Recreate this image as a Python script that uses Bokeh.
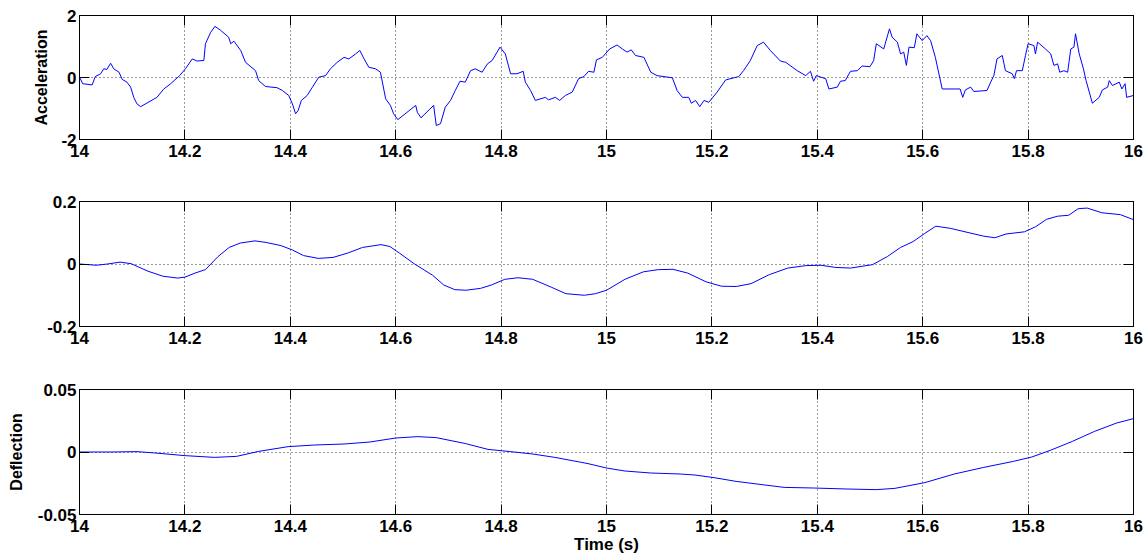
from bokeh.plotting import figure
from bokeh.layouts import column
from bokeh.models import Range1d, FixedTicker, LinearAxis, CustomJSTickFormatter
from bokeh.embed import file_html
from bokeh.resources import INLINE

# ---- data -------------------------------------------------------------
accel_t = [14.000, 14.006, 14.024, 14.030, 14.040, 14.046, 14.052, 14.059, 14.065, 14.075,
           14.081, 14.090, 14.097, 14.103, 14.109, 14.116, 14.147, 14.160, 14.173, 14.190,
           14.201, 14.214, 14.223, 14.236, 14.239, 14.249, 14.257, 14.268, 14.283, 14.287,
           14.293, 14.306, 14.315, 14.334, 14.340, 14.353, 14.375, 14.385, 14.397, 14.404,
           14.410, 14.415, 14.421, 14.432, 14.442, 14.454, 14.467, 14.476, 14.489, 14.502,
           14.511, 14.524, 14.532, 14.540, 14.549, 14.562, 14.571, 14.581, 14.590, 14.596,
           14.604, 14.638, 14.641, 14.648, 14.672, 14.677, 14.685, 14.694, 14.704, 14.713,
           14.722, 14.732, 14.742, 14.751, 14.764, 14.774, 14.783, 14.798, 14.808, 14.818,
           14.830, 14.842, 14.846, 14.856, 14.865, 14.884, 14.890, 14.903, 14.911, 14.922,
           14.935, 14.947, 14.957, 14.966, 14.976, 14.981, 14.992, 15.006, 15.020, 15.030,
           15.039, 15.047, 15.055, 15.071, 15.084, 15.096, 15.125, 15.134, 15.144, 15.156,
           15.161, 15.169, 15.177, 15.185, 15.194, 15.210, 15.226, 15.251, 15.260, 15.273,
           15.286, 15.298, 15.311, 15.330, 15.340, 15.362, 15.378, 15.387, 15.393, 15.398,
           15.416, 15.422, 15.438, 15.444, 15.453, 15.463, 15.476, 15.485, 15.500, 15.507,
           15.512, 15.526, 15.537, 15.542, 15.552, 15.558, 15.564, 15.569, 15.574, 15.584,
           15.589, 15.599, 15.608, 15.615, 15.624, 15.637, 15.671, 15.676, 15.681, 15.691,
           15.697, 15.722, 15.729, 15.735, 15.741, 15.751, 15.757, 15.770, 15.774, 15.778,
           15.789, 15.795, 15.800, 15.811, 15.814, 15.818, 15.833, 15.843, 15.849, 15.856,
           15.860, 15.868, 15.875, 15.881, 15.887, 15.890, 15.897, 15.905, 15.910, 15.922,
           15.935, 15.941, 15.951, 15.954, 15.960, 15.973, 15.978, 15.984, 15.987, 16.000]
accel_v = [0.02, -0.20, -0.24, 0.03, 0.12, 0.28, 0.26, 0.46, 0.28, 0.17,
           -0.06, -0.15, -0.31, -0.64, -0.85, -0.94, -0.64, -0.37, -0.20, 0.06,
           0.28, 0.60, 0.53, 0.55, 1.09, 1.46, 1.65, 1.52, 1.30, 1.09,
           1.17, 0.87, 0.49, 0.22, -0.10, -0.29, -0.33, -0.42, -0.58, -0.85,
           -1.17, -1.06, -0.74, -0.58, -0.31, 0.01, 0.06, 0.28, 0.49, 0.65,
           0.60, 0.76, 0.87, 0.60, 0.33, 0.28, 0.17, -0.69, -0.90, -1.17,
           -1.36, -0.90, -1.12, -1.30, -0.90, -1.55, -1.49, -0.96, -0.74, -0.42,
           -0.12, -0.15, 0.22, 0.28, 0.17, 0.44, 0.55, 0.98, 0.76, 0.12,
           0.12, 0.20, -0.15, -0.42, -0.74, -0.64, -0.72, -0.64, -0.74, -0.58,
           -0.47, -0.04, 0.03, 0.20, 0.17, 0.57, 0.65, 0.92, 1.05, 0.92,
           0.82, 0.89, 0.71, 0.65, 0.17, 0.06, -0.01, -0.42, -0.64, -0.64,
           -0.83, -0.74, -0.94, -0.74, -0.80, -0.47, -0.08, 0.03, 0.22, 0.55,
           1.03, 1.14, 0.87, 0.53, 0.49, 0.22, 0.06, 0.20, -0.12, 0.06,
           -0.04, -0.37, -0.31, -0.12, -0.10, 0.20, 0.22, 0.37, 0.35, 0.55,
           1.09, 0.92, 1.57, 1.30, 1.14, 0.76, 0.82, 0.39, 0.98, 0.96,
           1.41, 1.19, 1.35, 1.19, 0.65, -0.37, -0.37, -0.64, -0.40, -0.31,
           -0.45, -0.42, -0.15, 0.06, 0.60, 0.71, 0.22, 0.12, -0.04, 0.22,
           0.22, 0.71, 1.09, 1.03, 0.76, 1.14, 0.92, 0.76, 0.39, 0.44,
           0.17, 0.22, 0.17, 0.92, 0.98, 1.41, 0.76, 0.28, -0.10, -0.83,
           -0.64, -0.40, -0.31, -0.10, -0.26, -0.15, -0.37, -0.20, -0.64, -0.58]

vel_t = [14.000, 14.032, 14.053, 14.077, 14.098, 14.130, 14.158, 14.186, 14.200, 14.221,
         14.239, 14.263, 14.284, 14.305, 14.333, 14.354, 14.382, 14.404, 14.425, 14.453,
         14.481, 14.509, 14.537, 14.572, 14.589, 14.607, 14.635, 14.670, 14.691, 14.712,
         14.733, 14.761, 14.782, 14.807, 14.832, 14.860, 14.895, 14.923, 14.958, 14.979,
         15.000, 15.035, 15.070, 15.098, 15.126, 15.154, 15.189, 15.218, 15.246, 15.274,
         15.309, 15.344, 15.379, 15.407, 15.435, 15.463, 15.505, 15.533, 15.558, 15.582,
         15.604, 15.625, 15.653, 15.688, 15.716, 15.737, 15.758, 15.793, 15.814, 15.835,
         15.856, 15.877, 15.895, 15.912, 15.940, 15.975, 16.000]
vel_v = [0.000, -0.004, 0.000, 0.006, 0.001, -0.023, -0.039, -0.045, -0.042, -0.028,
         -0.018, 0.024, 0.053, 0.067, 0.074, 0.069, 0.059, 0.045, 0.027, 0.018,
         0.021, 0.035, 0.053, 0.062, 0.056, 0.035, 0.001, -0.036, -0.067, -0.082,
         -0.084, -0.078, -0.067, -0.049, -0.044, -0.049, -0.074, -0.095, -0.100, -0.095,
         -0.084, -0.049, -0.025, -0.018, -0.017, -0.029, -0.057, -0.071, -0.072, -0.063,
         -0.034, -0.013, -0.005, -0.004, -0.011, -0.013, -0.002, 0.024, 0.053, 0.072,
         0.098, 0.121, 0.114, 0.100, 0.089, 0.084, 0.096, 0.103, 0.119, 0.143,
         0.153, 0.156, 0.177, 0.179, 0.164, 0.158, 0.142]

defl_t = [14.000, 14.060, 14.109, 14.144, 14.200, 14.256, 14.298, 14.340, 14.396, 14.446,
          14.502, 14.551, 14.600, 14.642, 14.677, 14.733, 14.775, 14.818, 14.860, 14.902,
          14.949, 14.965, 15.000, 15.035, 15.084, 15.140, 15.168, 15.204, 15.246, 15.295,
          15.337, 15.393, 15.456, 15.512, 15.547, 15.604, 15.660, 15.716, 15.772, 15.807,
          15.842, 15.884, 15.926, 15.968, 16.000]
defl_v = [0.0000, 0.0000, 0.0003, -0.0008, -0.0029, -0.0043, -0.0035, 0.0005, 0.0043, 0.0056,
          0.0064, 0.0080, 0.0112, 0.0123, 0.0115, 0.0067, 0.0021, 0.0003, -0.0016, -0.0043,
          -0.0080, -0.0093, -0.0128, -0.0152, -0.0168, -0.0176, -0.0184, -0.0205, -0.0235, -0.0261,
          -0.0283, -0.0288, -0.0296, -0.0301, -0.0291, -0.0245, -0.0176, -0.0123, -0.0075, -0.0040,
          0.0013, 0.0085, 0.0165, 0.0232, 0.0267]

time_ticks = [14.0, 14.2, 14.4, 14.6, 14.8, 15.0, 15.2, 15.4, 15.6, 15.8, 16.0]
accel_ticks = [-2, 0, 2]
vel_ticks = [-0.2, 0, 0.2]
defl_ticks = [-0.05, 0, 0.05]

FONT = "Liberation Sans"
fmt_code = "return String(Math.round(tick * 100) / 100);"


def style_axis(ax, ticker, show_labels=True):
    ax.ticker = ticker
    ax.major_tick_in = 10
    ax.major_tick_out = 0
    ax.minor_tick_in = 0
    ax.minor_tick_out = 0
    ax.axis_line_color = "black"
    ax.major_tick_line_color = "black"
    ax.major_label_text_font = FONT
    ax.major_label_text_font_style = "bold"
    ax.major_label_text_color = "black"
    ax.major_label_text_font_size = "17px"
    if show_labels:
        ax.formatter = CustomJSTickFormatter(code=fmt_code)
    else:
        # tick marks only on the mirrored box edges
        ax.formatter = CustomJSTickFormatter(code="return '';")
        ax.major_label_standoff = 0


def panel(t, v, y_lo, y_hi, y_ticks, height, top, bottom, ylabel=None,
          ylabel_standoff=10, xlabel=None):
    p = figure(width=1148, height=height,
               x_range=Range1d(14, 16), y_range=Range1d(y_lo, y_hi),
               output_backend="svg", toolbar_location=None,
               min_border_left=79, min_border_right=15,
               min_border_top=top, min_border_bottom=bottom)
    p.background_fill_color = "white"
    p.border_fill_color = "white"
    p.outline_line_color = "black"
    p.outline_line_width = 1

    xaxis = p.below[0]
    yaxis = p.left[0]
    xt = FixedTicker(ticks=time_ticks)
    yt = FixedTicker(ticks=y_ticks)
    style_axis(xaxis, xt)
    style_axis(yaxis, yt)
    xaxis.major_label_standoff = 5
    yaxis.major_label_standoff = 3

    # mirrored ticks on the top and right edges of the box
    top_ax = LinearAxis()
    style_axis(top_ax, FixedTicker(ticks=time_ticks), show_labels=False)
    p.add_layout(top_ax, "above")
    right_ax = LinearAxis()
    style_axis(right_ax, FixedTicker(ticks=y_ticks), show_labels=False)
    p.add_layout(right_ax, "right")

    for g, tk in ((p.xgrid[0], xt), (p.ygrid[0], yt)):
        g.ticker = tk
        g.grid_line_color = "#333333"
        g.grid_line_dash = "1 3"
        g.grid_line_width = 1

    if ylabel:
        yaxis.axis_label = ylabel
        yaxis.axis_label_text_font = FONT
        yaxis.axis_label_text_font_style = "bold"
        yaxis.axis_label_text_font_size = "16px"
        yaxis.axis_label_text_color = "black"
        yaxis.axis_label_standoff = ylabel_standoff
    if xlabel:
        xaxis.axis_label = xlabel
        xaxis.axis_label_text_font = FONT
        xaxis.axis_label_text_font_style = "bold"
        xaxis.axis_label_text_font_size = "17px"
        xaxis.axis_label_text_color = "black"
        xaxis.axis_label_standoff = 0

    p.line(t, v, line_color="#0000ff", line_width=1)
    return p


p1 = panel(accel_t, accel_v, -2, 2, accel_ticks, 187, 15, 48,
           ylabel="Acceleration", ylabel_standoff=8)
p2 = panel(vel_t, vel_v, -0.2, 0.2, vel_ticks, 187, 14, 48)
p3 = panel(defl_t, defl_v, -0.05, 0.05, defl_ticks, 185, 15, 45,
           ylabel="Deflection", ylabel_standoff=10, xlabel="Time (s)")

layout = column(p1, p2, p3, spacing=0)

with open("out.html", "w") as f:
    f.write(file_html(layout, INLINE))
